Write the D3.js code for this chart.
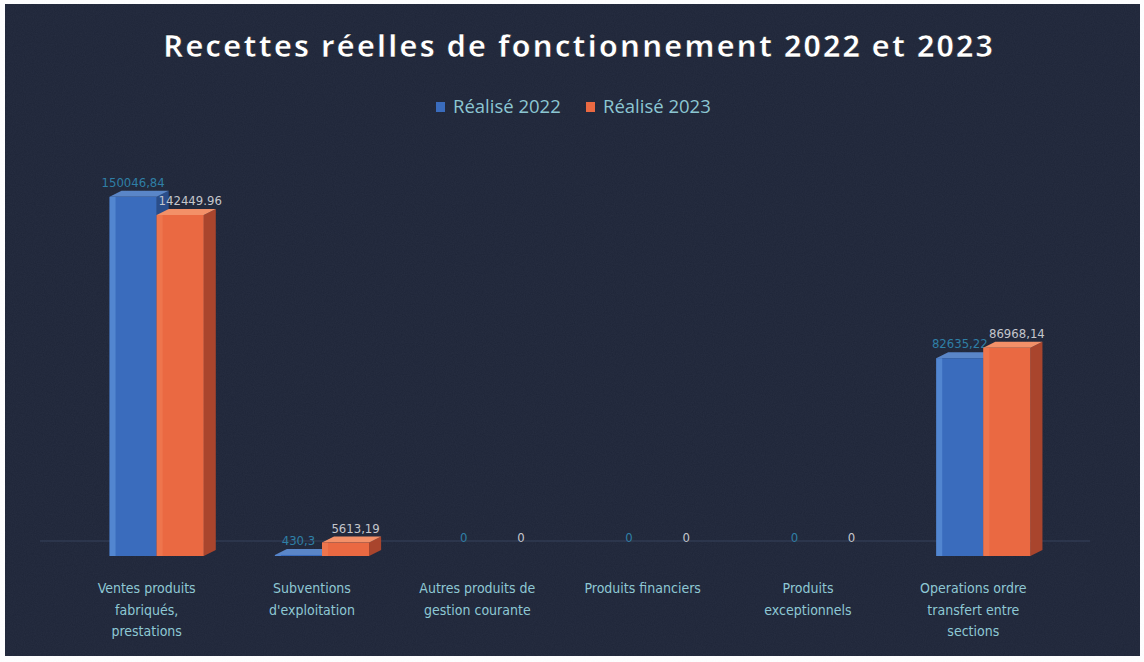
<!DOCTYPE html>
<html>
<head>
<meta charset="utf-8">
<script src="https://cdn.jsdelivr.net/npm/d3@7.9.0/dist/d3.min.js"></script>
<style>
  body { margin: 0; background: #ffffff; }
  svg { display: block; }
</style>
</head>
<body>
<div id="chart"></div>
<script>
// data
const categories = [
  "Ventes produits fabriqués, prestations",
  "Subventions d'exploitation",
  "Autres produits de gestion courante",
  "Produits financiers",
  "Produits exceptionnels",
  "Operations ordre transfert entre sections"
];
const categoryLines = [
  ["Ventes produits", "fabriqués,", "prestations"],
  ["Subventions", "d'exploitation"],
  ["Autres produits de", "gestion courante"],
  ["Produits financiers"],
  ["Produits", "exceptionnels"],
  ["Operations ordre", "transfert entre", "sections"]
];
const series = ["Réalisé 2022", "Réalisé 2023"];
const values2022 = [150046.84, 430.3, 0, 0, 0, 82635.22];
const values2023 = [142449.96, 5613.19, 0, 0, 0, 86968.14];
const labels2022 = ["150046,84", "430,3", "0", "0", "0", "82635,22"];
const labels2023 = ["142449.96", "5613,19", "0", "0", "0", "86968,14"];

const W = 1144, H = 662;
const depthX = 12, depthY = -6;

const svg = d3.select("#chart").append("svg")
    .attr("width", W)
    .attr("height", H);

// grainy dark background
const defs = svg.append("defs");
const noise = defs.append("filter").attr("id", "grain");
noise.append("feTurbulence")
    .attr("type", "fractalNoise")
    .attr("baseFrequency", 0.9)
    .attr("numOctaves", 2)
    .attr("seed", 4);
noise.append("feColorMatrix")
    .attr("type", "matrix")
    .attr("values", "0 0 0 0 0.45  0 0 0 0 0.5  0 0 0 0 0.65  0 0 0 0.06 0");

svg.append("rect")
    .attr("x", 5).attr("y", 4)
    .attr("width", 1135).attr("height", 652)
    .attr("fill", "#1e2538");
svg.append("rect")
    .attr("x", 5).attr("y", 4)
    .attr("width", 1135).attr("height", 652)
    .attr("filter", "url(#grain)");

// title
svg.append("text")
    .attr("x", 578)
    .attr("y", 57)
    .attr("text-anchor", "middle")
    .attr("font-family", "'Open Sans', sans-serif")
    .attr("font-weight", "bold")
    .attr("font-size", 31)
    .attr("fill", "#ffffff")
    .attr("stroke", "#0c0f18")
    .attr("stroke-width", 0.6)
    .attr("textLength", 830)
    .attr("lengthAdjust", "spacing")
    .text("Recettes réelles de fonctionnement 2022 et 2023");

// scales
const x0 = d3.scaleBand()
    .domain(categories)
    .range([74, 1066])
    .paddingInner(0.43)
    .paddingOuter(0.215);

const x1 = d3.scaleBand()
    .domain(series)
    .range([0, x0.bandwidth()]);

const y = d3.scaleLinear()
    .domain([0, 160000])
    .range([556, 556 - 160000 * 341 / 142449.96]);

// floor back edge
svg.append("line")
    .attr("x1", 40).attr("x2", 1090)
    .attr("y1", y(0) + depthY * 2.5).attr("y2", y(0) + depthY * 2.5)
    .attr("stroke", "#36425c")
    .attr("stroke-width", 1);

// colours of the faces
const faces = {
  "Réalisé 2022": {front: "#3a6cbd", light: "#5c91d9", side: "#2a4d8a", top: "#5a86c8"},
  "Réalisé 2023": {front: "#ea6942", light: "#f07a52", side: "#a9452d", top: "#f39068"}
};

const rows = categories.map((c, i) => ({
  cat: c,
  bars: [
    {s: series[0], v: values2022[i], label: labels2022[i]},
    {s: series[1], v: values2023[i], label: labels2023[i]}
  ]
}));

const groups = svg.selectAll("g.grp")
    .data(rows)
    .join("g")
    .attr("class", "grp")
    .attr("transform", d => `translate(${x0(d.cat)},0)`);

const bar = groups.selectAll("g.bar")
    .data(d => d.bars)
    .join("g")
    .attr("class", "bar");

// side face
bar.filter(d => d.v > 0).append("path")
    .attr("d", d => {
      const xr = x1(d.s) + x1.bandwidth(), top = y(d.v), bot = y(0);
      return `M${xr},${bot}L${xr},${top}L${xr + depthX},${top + depthY}L${xr + depthX},${bot + depthY}Z`;
    })
    .attr("fill", d => faces[d.s].side);

// top face
bar.filter(d => d.v > 0).append("path")
    .attr("d", d => {
      const xl = x1(d.s), xr = xl + x1.bandwidth(), top = y(d.v);
      return `M${xl},${top}L${xr},${top}L${xr + depthX},${top + depthY}L${xl + depthX},${top + depthY}Z`;
    })
    .attr("fill", d => faces[d.s].top);

// front face
bar.filter(d => d.v > 0).append("rect")
    .attr("x", d => x1(d.s))
    .attr("y", d => y(d.v))
    .attr("width", x1.bandwidth())
    .attr("height", d => y(0) - y(d.v))
    .attr("fill", d => faces[d.s].front);

bar.filter(d => d.v > 0).append("rect")
    .attr("x", d => x1(d.s))
    .attr("y", d => y(d.v))
    .attr("width", 6)
    .attr("height", d => y(0) - y(d.v))
    .attr("fill", d => faces[d.s].light)
    .attr("opacity", 0.7);

// value labels
bar.append("text")
    .attr("x", d => x1(d.s) + x1.bandwidth() / 2 + (d.s === series[1] ? 10 : 0))
    .attr("y", d => y(d.v) - (d.v > 0 ? 10 : 14))
    .attr("text-anchor", "middle")
    .attr("font-family", "'Liberation Sans Narrow', 'DejaVu Sans Condensed', 'Open Sans', sans-serif")
    .attr("font-size", 13)
    .attr("fill", d => d.s === series[0] ? "#2f7fa6" : "#c4c6cc")
    .text(d => d.label);

// category labels
const catText = svg.selectAll("text.cat")
    .data(rows)
    .join("text")
    .attr("class", "cat")
    .attr("x", d => x0(d.cat) + x0.bandwidth() / 2 - 10)
    .attr("y", 593)
    .attr("text-anchor", "middle")
    .attr("font-family", "'Liberation Sans Narrow', 'DejaVu Sans Condensed', 'Open Sans', sans-serif")
    .attr("font-size", 14)
    .attr("fill", "#8ec8d4");

catText.selectAll("tspan")
    .data((d, i) => categoryLines[i])
    .join("tspan")
    .attr("x", function() { return d3.select(this.parentNode).attr("x"); })
    .attr("dy", (d, i) => i === 0 ? 0 : 21.5)
    .text(d => d);

// legend
const legend = svg.append("g")
    .attr("transform", "translate(436,107)");
const legendX = [0, 150];
series.forEach((s, i) => {
  const g = legend.append("g").attr("transform", `translate(${legendX[i]},0)`);
  g.append("rect")
    .attr("x", 0).attr("y", -5)
    .attr("width", 9).attr("height", 10)
    .attr("fill", faces[s].front);
  g.append("text")
    .attr("x", 17)
    .attr("y", 6)
    .attr("font-family", "'Open Sans', sans-serif")
    .attr("font-size", 18.5)
    .attr("fill", "#8cc6d2")
    .text(s);
});
</script>
</body>
</html>
